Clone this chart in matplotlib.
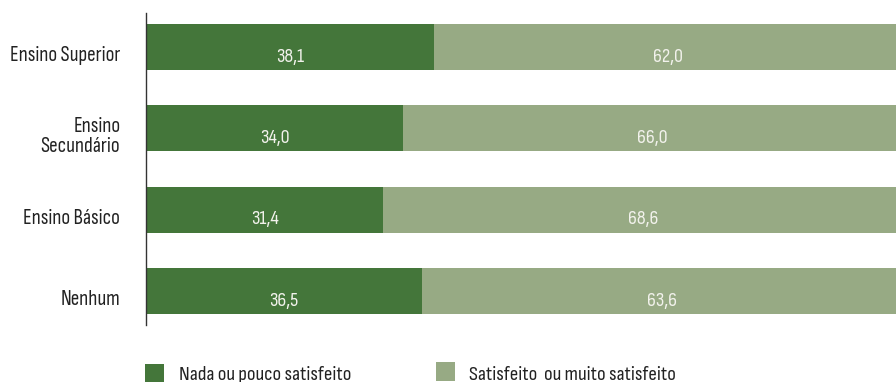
import matplotlib
matplotlib.use("Agg")
import matplotlib.pyplot as plt
from matplotlib.patches import Rectangle

categories = ["Ensino Superior", "Ensino\nSecundário", "Ensino Básico", "Nenhum"]
nada_pouco = [38.1, 34.0, 31.4, 36.5]
satisfeito = [62.0, 66.0, 68.6, 63.6]
series_names = ["Nada ou pouco satisfeito", "Satisfeito  ou muito satisfeito"]

dark_green = "#44763a"
light_green = "#97aa84"
text_dark = "#222222"
text_light = "#f2f2ec"

plt.rcParams["font.family"] = ["Sofia Sans Condensed", "DejaVu Sans"]

W, H = 896, 382
fig = plt.figure(figsize=(W / 100, H / 100), dpi=100)
ax = fig.add_axes([146 / W, 1 - 325 / H, 1 - 146 / W, (325 - 13) / H])

y = list(range(len(categories)))
ax.barh(y, nada_pouco, height=0.566, color=dark_green)
ax.barh(y, satisfeito, left=nada_pouco, height=0.566, color=light_green)

# value labels sit slightly below the bar middle
for i, (a, b) in enumerate(zip(nada_pouco, satisfeito)):
    for xc, v in ((a / 2, a), (a + b / 2, b)):
        ax.annotate(f"{v:.1f}".replace(".", ","), xy=(xc, i), xytext=(0, -10.5),
                    textcoords="offset points", ha="center", va="baseline",
                    color=text_light, fontsize=14.5)

# category names to the left of the axis line (baseline = last line)
for i, name in enumerate(categories):
    n_lines = name.count("\n")
    ax.annotate(name, xy=(0, i), xytext=(-18.5, -10 - 7 * n_lines),
                textcoords="offset points", ha="right", va="baseline",
                color=text_dark, fontsize=15.2, linespacing=1.08,
                multialignment="right", annotation_clip=False)

ax.set_xlim(0, 99.2)
ax.set_ylim(len(categories) - 1 + 0.418, -0.418)
ax.set_yticks([])
ax.set_xticks([])
for side in ["top", "right", "bottom"]:
    ax.spines[side].set_visible(False)
ax.spines["left"].set_color("#333333")
ax.spines["left"].set_linewidth(1.0)

# legend along the bottom edge
legend_items = [(145, 364, dark_green, 179, series_names[0]),
                (436, 362, light_green, 469, series_names[1])]
for sx, sy, col, tx, label in legend_items:
    fig.patches.append(Rectangle((sx / W, 1 - (sy + 19) / H), 19 / W, 19 / H,
                                 transform=fig.transFigure, facecolor=col,
                                 edgecolor="none"))
    fig.text(tx / W, 1 - 380 / H, label, ha="left", va="baseline",
             color=text_dark, fontsize=15)

fig.savefig("out.png", dpi=100)
